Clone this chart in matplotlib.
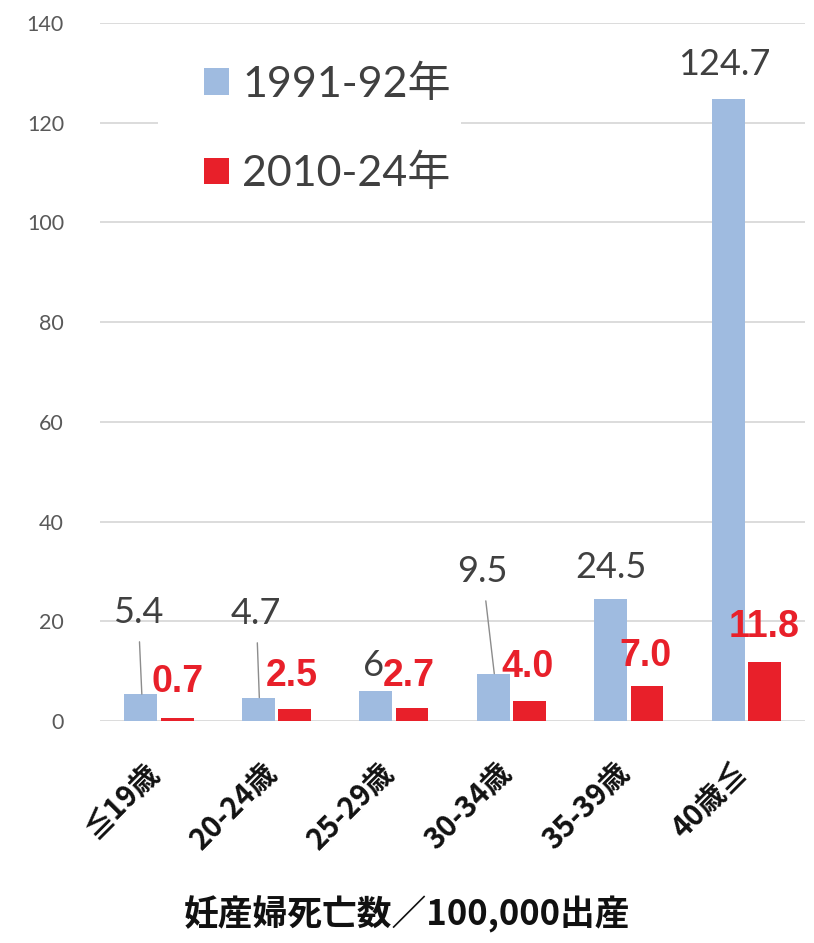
import matplotlib
matplotlib.use("Agg")
import matplotlib.pyplot as plt
import matplotlib.transforms as mtransforms
from matplotlib.patches import Rectangle
import numpy as np

categories = ["≦19歳", "20-24歳", "25-29歳", "30-34歳", "35-39歳", "40歳≦"]
series_names = ["1991-92年", "2010-24年"]
deaths_1991 = [5.4, 4.7, 6, 9.5, 24.5, 124.7]
deaths_2010 = [0.7, 2.5, 2.7, 4.0, 7.0, 11.8]
labels_1991 = ["5.4", "4.7", "6", "9.5", "24.5", "124.7"]
labels_2010 = ["0.7", "2.5", "2.7", "4.0", "7.0", "11.8"]
y_ticks = [0, 20, 40, 60, 80, 100, 120, 140]
x_title = "妊産婦死亡数／100,000出産"

BLUE = "#9fbbe0"
RED = "#e8202a"
GRID = "#d9d9d9"
DARK = "#404040"

LATIN = ["Lato", "Noto Sans CJK JP", "DejaVu Sans"]
CJK = ["Noto Sans CJK JP", "DejaVu Sans"]
BOLD_NUM = ["Liberation Sans", "DejaVu Sans"]
plt.rcParams["font.family"] = LATIN

fig = plt.figure(figsize=(8.14, 9.43), dpi=100)
ax = fig.add_axes([0.123, 0.2354, 0.866, 0.7402])

x = np.arange(len(categories))
w = 0.28
off = 0.155
ax.bar(x - off, deaths_1991, width=w, color=BLUE, zorder=2, label=series_names[0])
ax.bar(x + off, deaths_2010, width=w, color=RED, zorder=2, label=series_names[1])

ax.set_xlim(-0.5, len(categories) - 0.5)
ax.set_ylim(0, 140)
ax.set_yticks(y_ticks)
ax.yaxis.grid(True, color=GRID, linewidth=1.3, zorder=0)
ax.set_axisbelow(True)
for s in ax.spines.values():
    s.set_visible(False)
ax.tick_params(axis="y", length=0, pad=26, labelsize=15.5, labelcolor="#595959")
ax.tick_params(axis="x", length=0, pad=26)
ax.set_xticks(x)
ax.set_xticklabels(categories, rotation=45, ha="right", va="top",
                   rotation_mode="anchor", family=CJK, fontweight="bold",
                   fontsize=21, color="#111111")
shift = mtransforms.ScaledTranslation(-0.15, 0, fig.dpi_scale_trans)
for lbl in ax.get_xticklabels():
    lbl.set_transform(lbl.get_transform() + shift)

# 1991-92 labels: (dx from category, label height, leader line?)
blue_pos = [(-0.176, 22.3, True), (-0.171, 22.1, True), (-0.175, 11.8, False),
            (-0.246, 30.5, True), (-0.156, 31.3, False), (-0.185, 132.2, False)]
for i, (v, t, (dx, ty, lead)) in enumerate(zip(deaths_1991, labels_1991, blue_pos)):
    if lead:
        ax.annotate(t, xy=(i - off + 0.01, v), xytext=(i + dx, ty),
                    ha="center", va="center_baseline", fontsize=26, color=DARK,
                    arrowprops=dict(arrowstyle="-", color="#8c8c8c", lw=1,
                                    shrinkA=7, shrinkB=0))
    else:
        ax.text(i + dx, ty, t, ha="center", va="center_baseline",
                fontsize=26, color=DARK)

# 2010-24 labels: (dx from category, label height)
red_pos = [(0.156, 8.6), (0.135, 9.8), (0.124, 9.8), (0.137, 11.6),
           (0.142, 13.8), (0.147, 19.7)]
for i, (t, (dx, ty)) in enumerate(zip(labels_2010, red_pos)):
    ax.text(i + dx, ty, t, ha="center", va="center_baseline", fontsize=27,
            fontweight="bold", color=RED, family=BOLD_NUM, zorder=4)

# white backdrop behind the legend hides the gridline it sits on
ax.add_patch(Rectangle((0.082, 0.74), 0.43, 0.24, transform=ax.transAxes,
                       facecolor="white", edgecolor="none", zorder=1))
leg = ax.legend(loc="upper left", bbox_to_anchor=(0.099, 0.99), fontsize=31,
                frameon=False, handlelength=0.58, handleheight=0.58,
                handletextpad=0.3, labelspacing=1.16, borderpad=0.3)
for txt in leg.get_texts():
    txt.set_color(DARK)

fig.text(0.5, 0.03, x_title, ha="center", va="center", fontsize=25,
         fontweight="bold", family=CJK, color="#111111")

fig.savefig("out.png", dpi=100, facecolor="white")
